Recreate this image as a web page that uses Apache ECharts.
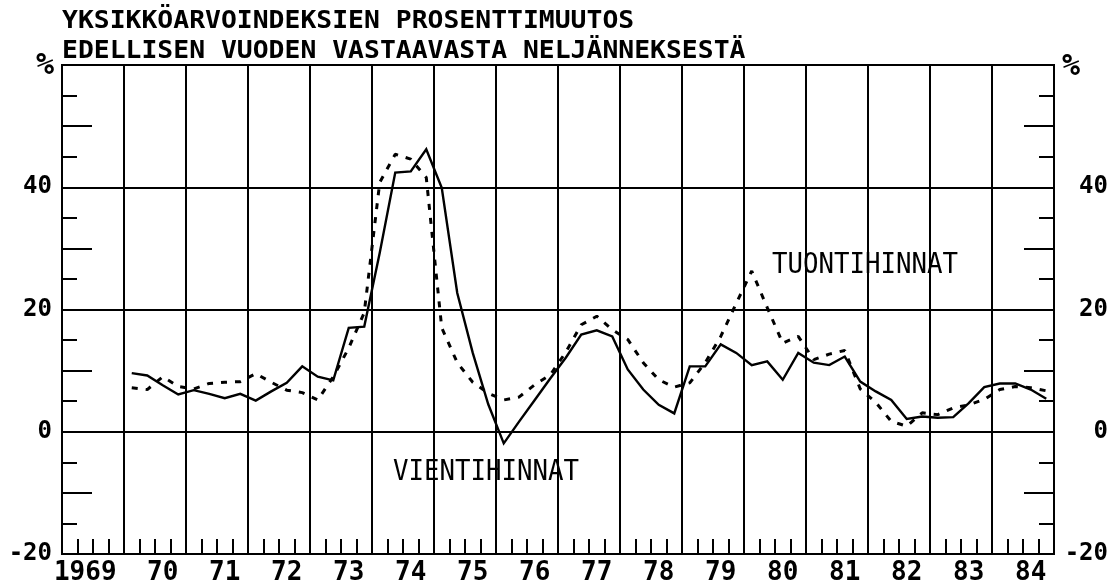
<!DOCTYPE html>
<html>
<head>
<meta charset="utf-8">
<title>Yksikköarvoindeksit</title>
<script src="https://cdn.jsdelivr.net/npm/echarts@6/dist/echarts.min.js"></script>
<style>
  html, body { margin: 0; padding: 0; background: #fff; }
  #main { width: 1114px; height: 587px; }
</style>
</head>
<body>
<div id="main"></div>
<script>
// year labels shown under the x axis (one per year, quarters in between)
const years = ["1969", "70", "71", "72", "73", "74", "75", "76",
  "77", "78", "79", "80", "81", "82", "83", "84"];

// quarterly change %, 1970 Q1 .. 1984 Q4
const vientiHinnat = [
  9.6, 9.2, 7.6, 6.1,
  6.8, 6.2, 5.5, 6.2,
  5.1, 6.6, 8.0, 10.7,
  9.0, 8.4, 17.0, 17.2,
  29.3, 42.4, 42.6, 46.2,
  39.9, 22.7, 12.9, 4.5,
  -1.9, 1.7, 5.2, 8.7,
  12.1, 15.9, 16.6, 15.6,
  10.2, 6.9, 4.4, 3.0,
  10.7, 10.7, 14.3, 12.9,
  10.9, 11.5, 8.5, 12.9,
  11.3, 10.9, 12.3, 8.2,
  6.6, 5.2, 2.1, 2.5,
  2.3, 2.4, 4.7, 7.3,
  7.9, 7.9, 6.9, 5.4
];

const tuontiHinnat = [
  7.2, 6.9, 9.0, 7.4,
  7.0, 7.9, 8.1, 8.2,
  9.5, 8.1, 6.8, 6.4,
  5.2, 9.0, 13.7, 19.5,
  40.8, 45.4, 44.6, 41.6,
  17.0, 11.3, 8.1, 6.3,
  5.2, 5.7, 7.7, 9.3,
  13.0, 17.5, 18.9, 16.7,
  15.1, 11.3, 8.5, 7.3,
  8.0, 11.3, 15.6, 21.0,
  26.3, 20.3, 14.5, 15.6,
  11.8, 12.7, 13.3, 7.0,
  4.8, 1.7, 0.9, 3.1,
  2.8, 3.9, 4.4, 5.3,
  6.9, 7.4, 7.2, 6.7
];

const yLabels = [-20, 0, 20, 40];
const gridValues = [0, 20, 40];
const firstDataYear = 1970;

document.addEventListener("DOMContentLoaded", function () {
  const chart = echarts.init(document.getElementById("main"));
  const font = '"DejaVu Sans Mono", monospace';

  // one category per quarter, 1969 Q1 .. 1984 Q4
  const quarters = [];
  years.forEach((y, i) => {
    for (let q = 1; q <= 4; q++) quarters.push((1969 + i) + " Q" + q);
  });
  const offset = (firstDataYear - 1969) * 4;
  const pad = (arr) => new Array(offset).fill(null).concat(arr);

  function labelFormatter(value) {
    return yLabels.indexOf(value) >= 0 ? String(value) : "";
  }

  const yCommon = {
    type: "value",
    min: -20,
    max: 60,
    interval: 10,
    axisLine: { show: true, lineStyle: { color: "#000", width: 2 } },
    axisTick: { show: true, inside: true, length: 30, lineStyle: { color: "#000", width: 2 } },
    minorTick: { show: true, splitNumber: 2, length: 15, lineStyle: { color: "#000", width: 2 } },
    splitLine: { show: false },
    minorSplitLine: { show: false }
  };

  const option = {
    animation: false,
    backgroundColor: "#fff",
    grid: {
      left: 62, right: 60, top: 65, bottom: 33,
      show: true, borderColor: "#000", borderWidth: 2
    },
    graphic: [
      { type: "text", x: 62, y: 22, scaleX: 1.1,
        style: { text: "YKSIKKÖARVOINDEKSIEN PROSENTTIMUUTOS", fontSize: 24, fontWeight: "bold", fontFamily: font, fill: "#000", align: "left", verticalAlign: "middle" } },
      { type: "text", x: 62, y: 52, scaleX: 1.1,
        style: { text: "EDELLISEN VUODEN VASTAAVASTA NELJÄNNEKSESTÄ", fontSize: 24, fontWeight: "bold", fontFamily: font, fill: "#000", align: "left", verticalAlign: "middle" } },
      { type: "text", x: 54, y: 66,
        style: { text: "%", fontSize: 30, fontWeight: "bold", fontFamily: font, fill: "#000", align: "right", verticalAlign: "middle" } },
      { type: "text", x: 1062, y: 67,
        style: { text: "%", fontSize: 30, fontWeight: "bold", fontFamily: font, fill: "#000", align: "left", verticalAlign: "middle" } },
      { type: "text", x: 393, y: 473, scaleX: 0.92,
        style: { text: "VIENTIHINNAT", fontSize: 28, fontFamily: font, fill: "#000", align: "left", verticalAlign: "middle" } },
      { type: "text", x: 772, y: 266, scaleX: 0.92,
        style: { text: "TUONTIHINNAT", fontSize: 28, fontFamily: font, fill: "#000", align: "left", verticalAlign: "middle" } }
    ],
    xAxis: {
      type: "category",
      data: quarters,
      boundaryGap: true,
      axisLine: { show: true, onZero: false, lineStyle: { color: "#000", width: 2 } },
      axisTick: { show: true, inside: true, interval: 0, length: 15, lineStyle: { color: "#000", width: 2 } },
      axisLabel: {
        interval: function (index) {
          return index === 1 || (index > 4 && index % 4 === 2);
        },
        formatter: function (value, index) {
          return years[Math.floor(index / 4)];
        },
        margin: 6,
        color: "#000",
        fontSize: 26,
        fontWeight: "bold",
        fontFamily: font
      },
      splitLine: {
        show: true,
        interval: function (index) { return index % 4 === 0; },
        lineStyle: { color: "#000", width: 2 }
      }
    },
    yAxis: [
      Object.assign({}, yCommon, {
        position: "left",
        axisLabel: { formatter: labelFormatter, margin: 10, color: "#000", fontSize: 24, fontWeight: "bold", fontFamily: font }
      }),
      Object.assign({}, yCommon, {
        position: "right",
        axisLabel: { formatter: labelFormatter, margin: 54, align: "right", color: "#000", fontSize: 24, fontWeight: "bold", fontFamily: font }
      })
    ],
    series: [
      {
        name: "VIENTIHINNAT",
        type: "line",
        data: pad(vientiHinnat),
        symbol: "none",
        lineStyle: { color: "#000", width: 2.4, join: "miter" },
        z: 3,
        markLine: {
          silent: true,
          symbol: "none",
          label: { show: false },
          lineStyle: { color: "#000", width: 2, type: "solid" },
          data: gridValues.map((v) => ({ yAxis: v }))
        }
      },
      {
        name: "TUONTIHINNAT",
        type: "line",
        data: pad(tuontiHinnat),
        symbol: "none",
        lineStyle: { color: "#000", width: 3, type: [6, 8], cap: "butt" },
        z: 3
      }
    ]
  };

  chart.setOption(option);
});
</script>
</body>
</html>
